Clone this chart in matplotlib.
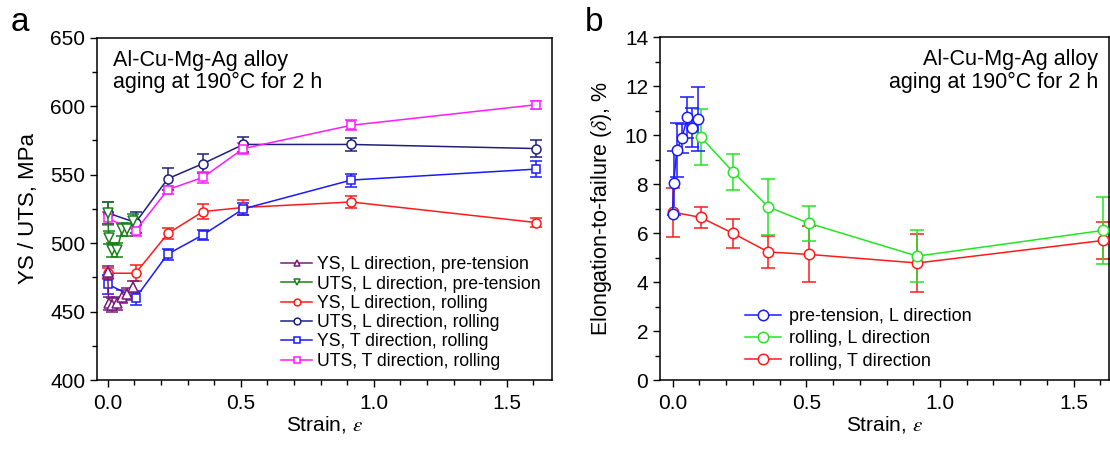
import numpy as np
import matplotlib

matplotlib.use("Agg")
import matplotlib.pyplot as plt
from matplotlib.ticker import MultipleLocator

plt.rcParams["font.family"] = ["Liberation Sans", "DejaVu Sans"]
plt.rcParams["mathtext.fontset"] = "stix"

# strain levels
roll_strain = [0.0, 0.105, 0.226, 0.358, 0.51, 0.915, 1.61]
pre_strain = [0.0, 0.004, 0.016, 0.035, 0.055, 0.072, 0.096]

# panel a: strength, MPa
ys_l_pre = [479, 456, 455, 456, 461, 463, 468]
ys_l_pre_err = [4.5, 5, 5, 5, 4.5, 4.5, 4.5]
uts_l_pre = [522, 504, 495, 495, 510, 510, 516]
uts_l_pre_err = [8, 5, 5, 5, 5, 5, 5]
ys_l_roll = [478, 478, 507, 523, 526, 530, 515]
ys_l_roll_err = [4, 6, 4.3, 5.7, 5.7, 4.3, 3.3]
uts_l_roll = [522, 515, 547, 558, 572, 572, 569]
uts_l_roll_err = [8, 8, 8, 7, 5.5, 5, 6]
ys_t_roll = [470, 460, 492, 506, 525, 546, 554]
ys_t_roll_err = [7, 5, 4, 3.7, 4.5, 4.7, 6]
uts_t_roll = [518, 509, 539, 548, 569, 586, 601]
uts_t_roll_err = [5, 4, 3, 4, 4, 3.5, 3]

# panel b: elongation, %
el_pre = [6.8, 8.05, 9.4, 9.87, 10.72, 10.3, 10.65]
el_pre_err = [np.nan, 1.3, 1.1, 0.6, 0.85, 0.8, 1.3]
el_l_roll = [9.93, 8.5, 7.07, 6.4, 5.06, 6.11]
el_l_roll_err = [1.15, 0.73, 1.13, 0.72, 1.05, 1.37]
el_t_roll = [6.86, 6.64, 5.99, 5.23, 5.13, 4.78, 5.7]
el_t_roll_err = [1.0, 0.42, 0.6, 0.64, 1.14, 1.18, 0.77]

note = "Al-Cu-Mg-Ag alloy\naging at 190\u00b0C for 2 h"


def draw(ax, x, y, err, color, marker, label, ms, cap):
    ax.errorbar(x, y, yerr=err, fmt="none", ecolor=color, elinewidth=1.1,
                capsize=cap, capthick=1.1, zorder=2)
    ax.plot(x, y, color=color, lw=1.1, marker=marker, ms=ms, mfc="white",
            mec=color, mew=1.1, label=label, zorder=3)


def style(ax):
    for s in ax.spines.values():
        s.set_linewidth(1.1)
    ax.tick_params(which="both", direction="out", labelsize=15, width=1.0)
    ax.tick_params(which="major", length=5)
    ax.tick_params(which="minor", length=3.5)
    ax.tick_params(axis="x", pad=5)
    ax.xaxis.set_major_locator(MultipleLocator(0.5))
    ax.xaxis.set_minor_locator(MultipleLocator(0.1))
    ax.xaxis.set_major_formatter(plt.FuncFormatter(lambda v, p: f"{v:.1f}"))
    ax.set_xlabel(r"Strain, $\varepsilon$", fontsize=15, labelpad=1)


fig = plt.figure(figsize=(11.1, 4.53), dpi=100)
ax1 = fig.add_axes([0.0874, 0.161, 0.41, 0.756])
ax2 = fig.add_axes([0.5946, 0.161, 0.4045, 0.757])

# panel a
draw(ax1, roll_strain, ys_l_roll, ys_l_roll_err, "#ff1a1a", "o", "YS, L direction, rolling", 6.5, 4)
draw(ax1, roll_strain, uts_l_roll, uts_l_roll_err, "#1f1f80", "o", "UTS, L direction, rolling", 6.5, 4)
draw(ax1, roll_strain, ys_t_roll, ys_t_roll_err, "#1a1aff", "s", "YS, T direction, rolling", 6, 4)
draw(ax1, roll_strain, uts_t_roll, uts_t_roll_err, "#ff1aff", "s", "UTS, T direction, rolling", 6, 4)
draw(ax1, pre_strain, ys_l_pre, ys_l_pre_err, "#7a1a7a", "^", "YS, L direction, pre-tension", 6.5, 4)
draw(ax1, pre_strain, uts_l_pre, uts_l_pre_err, "#1a801a", "v", "UTS, L direction, pre-tension", 6.5, 4)

ax1.set_xlim(-0.04, 1.67)
ax1.set_ylim(400, 650)
ax1.yaxis.set_major_locator(MultipleLocator(50))
ax1.yaxis.set_minor_locator(MultipleLocator(25))
style(ax1)
ax1.set_ylabel("YS / UTS, MPa", fontsize=16, labelpad=8)
ax1.text(0.035, 0.965, note, transform=ax1.transAxes, ha="left", va="top",
         fontsize=15.5, linespacing=1.1)
h, l = ax1.get_legend_handles_labels()
order = [4, 5, 0, 1, 2, 3]
ax1.legend([h[i] for i in order], [l[i] for i in order], loc="lower left",
           bbox_to_anchor=(0.405, 0.03), frameon=False, fontsize=12.7,
           handlelength=1.75, handletextpad=0.3, labelspacing=0.13,
           markerscale=0.75, borderpad=0, borderaxespad=0)

# panel b
draw(ax2, roll_strain, el_t_roll, el_t_roll_err, "#ff1a1a", "o", "rolling, T direction", 7.5, 5)
draw(ax2, roll_strain[1:], el_l_roll, el_l_roll_err, "#22e622", "o", "rolling, L direction", 7.5, 5)
draw(ax2, pre_strain, el_pre, el_pre_err, "#1a1aff", "o", "pre-tension, L direction", 7.5, 5)

ax2.set_xlim(-0.047, 1.632)
ax2.set_ylim(0, 14)
ax2.yaxis.set_major_locator(MultipleLocator(2))
ax2.yaxis.set_minor_locator(MultipleLocator(1))
style(ax2)
ax2.set_ylabel(r"Elongation-to-failure ($\delta$), %", fontsize=15.5, labelpad=8)
ax2.text(0.975, 0.965, note, transform=ax2.transAxes, ha="right", va="top",
         fontsize=15.5, linespacing=1.1, multialignment="right")
h, l = ax2.get_legend_handles_labels()
ax2.legend(h[::-1], l[::-1], loc="lower left", bbox_to_anchor=(0.19, 0.03),
           frameon=False, fontsize=13, handlelength=2.0, handletextpad=0.4,
           labelspacing=0.3, borderpad=0, borderaxespad=0)

fig.text(0.01, 0.985, "a", fontsize=24, va="top")
fig.text(0.527, 0.985, "b", fontsize=24, va="top")

fig.savefig("out.png", dpi=100)
